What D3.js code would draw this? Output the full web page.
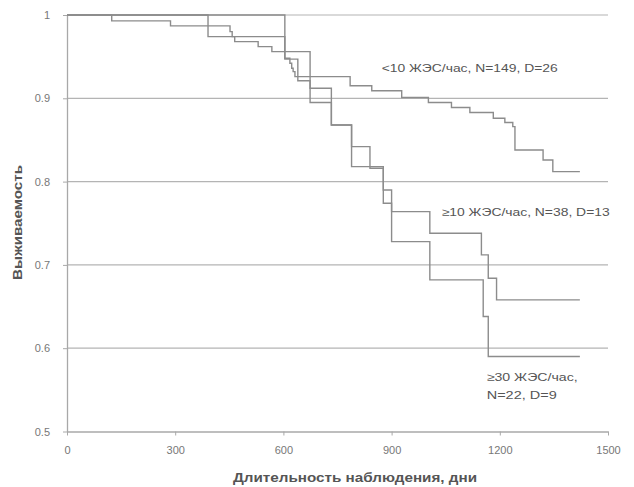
<!DOCTYPE html>
<html>
<head>
<meta charset="utf-8">
<script src="https://cdn.jsdelivr.net/npm/d3@7"></script>
<style>
  body { margin: 0; background: #fff; }
  text { font-family: Arial, "Liberation Sans", sans-serif; }
</style>
</head>
<body>
<div id="chart"></div>
<script>
// Кривые выживаемости (дни, доля)
const tLow = [0, 124, 287, 452, 458, 465, 530, 568, 604, 618, 623, 627, 632, 785, 845, 928, 1002, 1066, 1117, 1182, 1214, 1236, 1242, 1320, 1347, 1422];
const sLow = [1, 0.993, 0.987, 0.980, 0.974, 0.968, 0.962, 0.956, 0.948, 0.942, 0.936, 0.932, 0.926, 0.915, 0.909, 0.901, 0.895, 0.889, 0.883, 0.876, 0.871, 0.866, 0.838, 0.826, 0.812, 0.812];

const tMid = [0, 391, 604, 640, 674, 733, 789, 840, 877, 900, 1006, 1149, 1168, 1191, 1422];
const sMid = [1, 0.974, 0.947, 0.921, 0.895, 0.868, 0.842, 0.816, 0.790, 0.764, 0.738, 0.712, 0.684, 0.658, 0.658];

const tHigh = [0, 604, 674, 733, 789, 877, 900, 1006, 1154, 1168, 1422];
const sHigh = [1, 0.956, 0.912, 0.868, 0.818, 0.774, 0.728, 0.682, 0.638, 0.590, 0.590];

const xTicks = [0, 300, 600, 900, 1200, 1500];
const yTicks = [0.5, 0.6, 0.7, 0.8, 0.9, 1];

const width = 634, height = 487;
const margin = { top: 15, right: 26, bottom: 55.5, left: 67 };

const svg = d3.select("#chart").append("svg")
    .attr("width", width)
    .attr("height", height);

const x = d3.scaleLinear().domain([0, 1500]).range([margin.left, width - margin.right]);
const y = d3.scaleLinear().domain([0.5, 1]).range([height - margin.bottom, margin.top]);

// сетка
svg.append("g")
    .selectAll("line")
    .data(yTicks.filter(d => d > 0.5))
    .enter().append("line")
    .attr("x1", x(0)).attr("x2", x(1500))
    .attr("y1", d => y(d)).attr("y2", d => y(d))
    .attr("stroke", "#b4b4b4")
    .attr("stroke-width", 1.2);

// оси
const xAxis = svg.append("g")
    .attr("transform", `translate(0,${y(0.5)})`)
    .call(d3.axisBottom(x).tickValues(xTicks).tickSize(4).tickPadding(11).tickSizeOuter(0)
        .tickFormat(d3.format("d")));
const yAxis = svg.append("g")
    .attr("transform", `translate(${x(0)},0)`)
    .call(d3.axisLeft(y).tickValues(yTicks).tickSize(4).tickPadding(13).tickSizeOuter(0)
        .tickFormat(d => d === 1 ? "1" : d3.format(".1f")(d)));

[xAxis, yAxis].forEach(g => {
    g.select(".domain").attr("stroke", "#a8a8a8").attr("stroke-width", 1.3);
    g.selectAll(".tick line").attr("stroke", "#a8a8a8");
    g.selectAll(".tick text").attr("font-size", "11px").attr("fill", "#777");
});

// ступенчатые кривые
const line = d3.line()
    .x(d => x(d[0]))
    .y(d => y(d[1]))
    .curve(d3.curveStepAfter);

[[tLow, sLow], [tMid, sMid], [tHigh, sHigh]].forEach(([t, s]) => {
    svg.append("path")
        .datum(t.map((v, i) => [v, s[i]]))
        .attr("fill", "none")
        .attr("stroke", "#8c8c8c")
        .attr("stroke-width", 1.4)
        .attr("d", line);
});

// подписи кривых
const labels = [
    { text: "<10 ЖЭС/час, N=149, D=26", x: 381.7, y: 72, w: 176 },
    { text: "≥10 ЖЭС/час, N=38, D=13", x: 441.7, y: 216, w: 168 },
    { text: "≥30 ЖЭС/час,", x: 486.7, y: 380.5, w: 91 },
    { text: "N=22, D=9", x: 486.7, y: 399, w: 70 }
];
svg.selectAll(".lbl")
    .data(labels)
    .enter().append("text")
    .attr("class", "lbl")
    .attr("x", d => d.x)
    .attr("y", d => d.y)
    .attr("font-size", "11px")
    .attr("fill", "#555")
    .attr("textLength", d => d.w)
    .attr("lengthAdjust", "spacingAndGlyphs")
    .text(d => d.text);

// названия осей
svg.append("text")
    .attr("x", 233)
    .attr("y", 482)
    .attr("font-size", "12px")
    .attr("font-weight", "bold")
    .attr("fill", "#555")
    .attr("textLength", 244)
    .attr("lengthAdjust", "spacingAndGlyphs")
    .text("Длительность наблюдения, дни");

svg.append("text")
    .attr("transform", "translate(22,280) rotate(-90)")
    .attr("font-size", "12px")
    .attr("font-weight", "bold")
    .attr("fill", "#555")
    .attr("textLength", 115)
    .attr("lengthAdjust", "spacingAndGlyphs")
    .text("Выживаемость");
</script>
</body>
</html>
